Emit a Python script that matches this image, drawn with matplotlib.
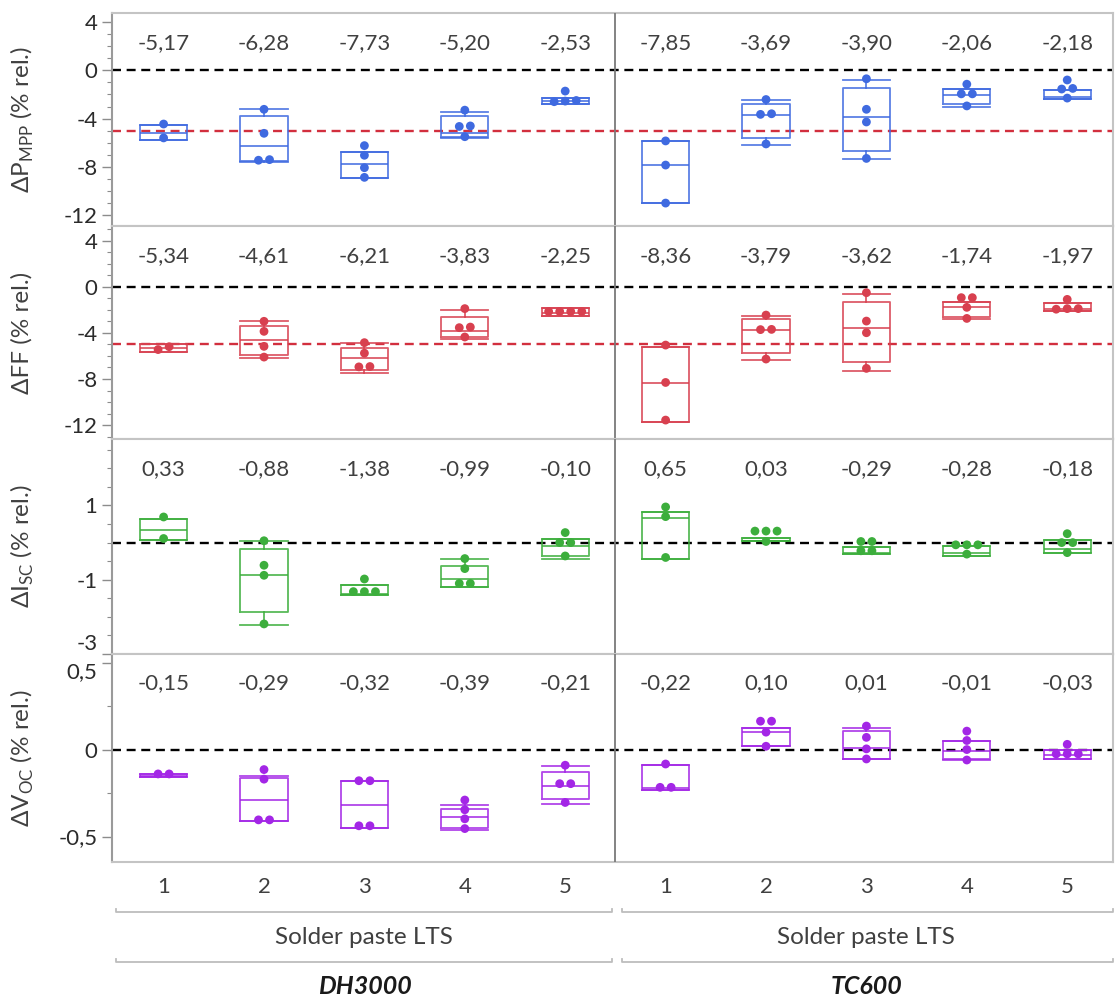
import numpy as np
import matplotlib.pyplot as plt
from matplotlib import transforms
from matplotlib.lines import Line2D
from matplotlib.ticker import FixedLocator, MultipleLocator, FuncFormatter

plt.rcParams['font.family'] = ['Lato', 'DejaVu Sans']
plt.rcParams['mathtext.fontset'] = 'custom'
plt.rcParams['mathtext.rm'] = 'Lato'
plt.rcParams['axes.unicode_minus'] = False

chambers = ['DH3000', 'TC600']
pastes = ['1', '2', '3', '4', '5']
group_title = 'Solder paste LTS'

# every list: pastes 1-5 after DH3000, then pastes 1-5 after TC600
pmpp_med = [-5.17, -6.28, -7.73, -5.20, -2.53, -7.85, -3.69, -3.90, -2.06, -2.18]
pmpp_q1 = [-5.75, -7.55, -8.95, -5.55, -2.75, -11.0, -5.58, -6.66, -2.82, -2.40]
pmpp_q3 = [-4.55, -3.78, -6.80, -3.78, -2.27, -5.85, -2.82, -1.49, -1.57, -1.60]
pmpp_lo = [-5.75, -7.60, -8.95, -5.64, -2.75, -11.0, -6.20, -7.35, -3.00, -2.40]
pmpp_hi = [-4.55, -3.23, -6.80, -3.43, -2.27, -5.85, -2.50, -0.80, -1.57, -1.60]
pmpp_pts = [[-4.45, -5.60], [-3.23, -5.22, -7.40, -7.45], [-6.24, -7.04, -8.07, -8.87],
            [-3.30, -4.61, -4.65, -5.50], [-1.72, -2.50, -2.55, -2.60],
            [-5.85, -7.85, -11.0], [-2.42, -3.60, -3.65, -6.10], [-0.70, -3.23, -4.28, -7.30],
            [-1.15, -1.95, -1.95, -2.95], [-0.80, -1.50, -1.55, -2.30]]

ff_med = [-5.34, -4.61, -6.21, -3.83, -2.25, -8.36, -3.79, -3.62, -1.74, -1.97]
ff_q1 = [-5.70, -5.96, -7.18, -4.36, -2.55, -11.7, -5.78, -6.50, -2.60, -2.11]
ff_q3 = [-5.00, -3.43, -5.29, -2.62, -1.89, -5.20, -2.83, -1.33, -1.33, -1.45]
ff_lo = [-5.70, -6.20, -7.45, -4.50, -2.55, -11.7, -6.36, -7.28, -2.83, -2.11]
ff_hi = [-5.00, -3.00, -4.88, -2.03, -1.89, -5.20, -2.50, -0.60, -1.33, -1.45]
ff_pts = [[-5.20, -5.45], [-3.00, -3.87, -5.17, -6.10], [-4.85, -5.76, -6.92, -6.95],
          [-1.90, -3.50, -3.55, -4.36], [-2.15, -2.15, -2.15, -2.15],
          [-5.06, -8.30, -11.56], [-2.46, -3.70, -3.72, -6.27], [-0.52, -2.98, -3.99, -7.08],
          [-0.95, -0.95, -1.79, -2.75], [-1.10, -1.90, -1.90, -1.95]]

isc_med = [0.33, -0.88, -1.38, -0.99, -0.10, 0.65, 0.03, -0.29, -0.28, -0.18]
isc_q1 = [0.06, -1.875, -1.42, -1.20, -0.36, -0.43, 0.03, -0.30, -0.36, -0.29]
isc_q3 = [0.64, -0.18, -1.13, -0.625, 0.11, 0.82, 0.12, -0.13, -0.09, 0.07]
isc_lo = [0.06, -2.21, -1.42, -1.20, -0.43, -0.43, 0.03, -0.30, -0.36, -0.29]
isc_hi = [0.64, 0.04, -1.13, -0.45, 0.11, 0.82, 0.12, -0.13, -0.09, 0.07]
isc_pts = [[0.69, 0.11], [0.05, -0.61, -0.88, -2.19], [-0.98, -1.32, -1.32, -1.32],
           [-0.43, -0.70, -1.10, -1.10], [0.27, 0.0, 0.0, -0.36],
           [0.96, 0.70, -0.40], [0.31, 0.31, 0.31, 0.03], [0.03, 0.03, -0.22, -0.22],
           [-0.06, -0.06, -0.06, -0.31], [0.24, 0.0, 0.0, -0.27]]

voc_med = [-0.15, -0.29, -0.32, -0.39, -0.21, -0.22, 0.10, 0.01, -0.01, -0.03]
voc_q1 = [-0.155, -0.41, -0.448, -0.452, -0.285, -0.23, 0.023, -0.054, -0.054, -0.054]
voc_q3 = [-0.14, -0.163, -0.18, -0.342, -0.129, -0.088, 0.125, 0.106, 0.052, 0.0]
voc_lo = [-0.155, -0.41, -0.448, -0.465, -0.31, -0.23, 0.023, -0.054, -0.06, -0.054]
voc_hi = [-0.14, -0.15, -0.18, -0.32, -0.096, -0.088, 0.125, 0.125, 0.052, 0.0]
voc_pts = [[-0.14, -0.14], [-0.115, -0.17, -0.404, -0.404], [-0.179, -0.179, -0.438, -0.438],
           [-0.29, -0.346, -0.398, -0.454], [-0.09, -0.196, -0.196, -0.304],
           [-0.083, -0.217, -0.217], [0.163, 0.163, 0.10, 0.019], [0.135, 0.07, 0.004, -0.054],
           [0.106, 0.052, 0.0, -0.06], [0.03, -0.025, -0.025, -0.025]]

panels = [
    dict(ylabel=r'ΔP$_{\mathrm{MPP}}$ (% rel.)', color='#3f6ae0', med=pmpp_med, q1=pmpp_q1,
         q3=pmpp_q3, lo=pmpp_lo, hi=pmpp_hi, pts=pmpp_pts, ylim=(-12.9, 4.75),
         major=[-12, -8, -4, 0, 4], minor=1, ref=-5),
    dict(ylabel='ΔFF (% rel.)', color='#d8404f', med=ff_med, q1=ff_q1, q3=ff_q3,
         lo=ff_lo, hi=ff_hi, pts=ff_pts, ylim=(-13.2, 5.26),
         major=[-12, -8, -4, 0, 4], minor=1, ref=-5),
    dict(ylabel=r'ΔI$_{\mathrm{SC}}$ (% rel.)', color='#3cae3c', med=isc_med, q1=isc_q1,
         q3=isc_q3, lo=isc_lo, hi=isc_hi, pts=isc_pts, ylim=(-3.0, 2.79),
         major=[-3, -1, 1], minor=0.5, ref=None),
    dict(ylabel=r'ΔV$_{\mathrm{OC}}$ (% rel.)', color='#a326e6', med=voc_med, q1=voc_q1,
         q3=voc_q3, lo=voc_lo, hi=voc_hi, pts=voc_pts, ylim=(-0.646, 0.549),
         major=[-0.5, 0, 0.5], minor=0.25, ref=None),
]

W, H = 1115, 999
row_edges = [13, 226, 439, 654, 862]
left_px, right_px = 112, 1113
xpos = np.arange(10)
xlim = (-0.514, 9.456)
box_w = 0.47
text_col = '#404040'
tick_col = '#2b2b2b'
frame_col = '#c4c4c4'


def spread(vals, tol):
    # side-by-side offsets for measurements that would sit on top of each other
    vals = np.asarray(vals)
    order = np.argsort(vals)
    clusters = []
    for i in order:
        if clusters and abs(vals[i] - vals[clusters[-1][-1]]) < tol:
            clusters[-1].append(i)
        else:
            clusters.append([i])
    offs = np.zeros(len(vals))
    for c in clusters:
        k = len(c)
        for j, i in enumerate(c):
            offs[i] = (j - (k - 1) / 2) * 0.11
    return offs


def comma(v, pos=None):
    return ('%g' % v).replace('.', ',')


fig = plt.figure(figsize=(W / 100, H / 100), dpi=100)
axes = []
for r, p in enumerate(panels):
    top, bot = row_edges[r], row_edges[r + 1]
    ax = fig.add_axes([left_px / W, 1 - bot / H, (right_px - left_px) / W, (bot - top) / H])
    axes.append(ax)
    ax.set_xlim(*xlim)
    ax.set_ylim(*p['ylim'])

    stats = [dict(med=p['med'][i], q1=p['q1'][i], q3=p['q3'][i],
                  whislo=p['lo'][i], whishi=p['hi'][i], fliers=[]) for i in range(10)]
    lp = dict(color=p['color'], linewidth=1.3, alpha=0.85)
    ax.bxp(stats, positions=xpos, widths=box_w, capwidths=box_w, showfliers=False,
           boxprops=lp, medianprops=lp, whiskerprops=lp, capprops=lp, zorder=3)

    tol = 0.035 * (p['ylim'][1] - p['ylim'][0])
    for i, vals in enumerate(p['pts']):
        xs = xpos[i] + spread(vals, tol)
        ax.scatter(xs, vals, s=40, color=p['color'], edgecolors='none', zorder=4)

    ax.axhline(0, color='black', lw=1.7, ls=(0, (3.8, 2.4)), zorder=2)
    if p['ref'] is not None:
        ax.axhline(p['ref'], color='#d22f3e', lw=1.7, ls=(0, (3.8, 2.4)), zorder=2)
    ax.axvline(4.5, color='#7a7a7a', lw=1.3, zorder=5)

    lab_tr = transforms.blended_transform_factory(ax.transData, ax.transAxes)
    for i, m in enumerate(p['med']):
        ax.text(xpos[i], 0.86, ('%.2f' % m).replace('.', ','), transform=lab_tr,
                ha='center', va='center', fontsize=16, color=text_col)

    ax.yaxis.set_major_locator(FixedLocator(p['major']))
    ax.yaxis.set_minor_locator(MultipleLocator(p['minor']))
    ax.yaxis.set_major_formatter(FuncFormatter(comma))
    ax.tick_params(axis='y', which='major', length=7, width=1, color='#8c8c8c',
                   labelsize=16, labelcolor=tick_col, pad=3.5)
    ax.tick_params(axis='y', which='minor', length=3.6, width=0.8, color='#8c8c8c')
    ax.tick_params(axis='x', length=0)
    for s in ax.spines.values():
        s.set_color(frame_col)
        s.set_linewidth(1.5)
    ax.spines['left'].set_color('#9a9a9a')

    ax.text(-0.09, 0.5, p['ylabel'], transform=ax.transAxes, rotation=90,
            ha='center', va='center', fontsize=17.5, color=text_col)

    if r < len(panels) - 1:
        ax.set_xticks([])
    else:
        ax.set_xticks(xpos)
        ax.set_xticklabels(pastes * 2)
        ax.tick_params(axis='x', labelsize=16, labelcolor=text_col, pad=11)

# the -3 of the current panel and the 0,5 of the voltage panel share one edge
fig.canvas.draw()
axes[2].yaxis.get_major_ticks()[0].label1.set_va('bottom')
axes[3].yaxis.get_major_ticks()[-1].label1.set_va('top')

# group brackets and captions under the bottom panel
ax = axes[-1]
br = transforms.blended_transform_factory(ax.transData, fig.transFigure)
spans = [(-0.47, 4.47), (4.57, 9.456)]
for g, (x0, x1) in enumerate(spans):
    for ypx in (912, 962):
        yy = 1 - ypx / H
        hook = 3 / H
        fig.add_artist(Line2D([x0, x0, x1, x1], [yy + hook, yy, yy, yy + hook],
                              transform=br, color='#bdbdbd', lw=1.3))
    xc = xpos[g * 5 + 2]
    fig.text(xc, 1 - 937 / H, group_title, transform=br, ha='center', va='center',
             fontsize=17.5, color=text_col)
    fig.text(xc, 1 - 986 / H, chambers[g], transform=br, ha='center', va='center',
             fontsize=18, fontweight='bold', fontstyle='italic', color='#1a1a1a')

fig.savefig('out.png', dpi=100, facecolor='white')
